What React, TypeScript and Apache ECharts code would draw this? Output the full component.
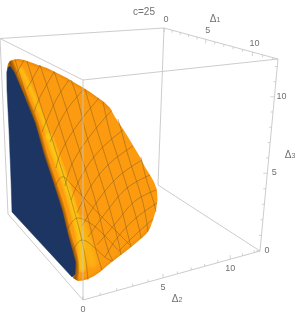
import React, { useEffect, useRef } from "react";
import * as echarts from "echarts";

type P = number[];
const W = 297, H = 315;
const title = "c=25";
const axisMax = 12.5;
const tickValues = [0,1,2,3,4,5,6,7,8,9,10,11,12];
const tickLabels = [0,5,10];

// box corners in picture units
const cTL: P=[0,38.5], cA: P=[164,28], cB: P=[278,59], cF: P=[83,80];
const cBL: P=[8,214], cBack: P=[158,185], cD: P=[260,251], cC: P=[83,300];
const backEdges = [[cTL,cA],[cA,cB],[cTL,cF],[cF,cB],[cTL,cBL],[cA,cBack],[cB,cD],[cBack,cD]];
const frontEdges = [[cF,cC],[cBL,cC],[cC,cD]];

const bodyOutline: P[] = [[7,68],[8,64],[10,61],[14,59.5],[18,59],[24,60],[30,62],[38,65],[47,68],[57,73],[67,78],[75,83],[82,87],[90,92],[97,97],[104,102],[110,108],[115,117],[123,129],[128,137],[140,157],[145,167],[150,175],[154,182],[157,190],[157.5,200],[156,210],[153,220],[150,228],[147,233],[143,237],[130,248],[117,258],[108,265],[100,272],[94,276],[88,279],[83,280.5],[78,281],[73,278],[50,200],[20,110]];
const blueFace: P[] = [[10,66],[8,67.5],[6.8,72],[7,90],[9,130],[11,180],[12,212],[72,277],[75,274],[75.5,262],[68,235],[62,210],[53,182],[44,155],[35,123],[23,93],[14,72]];
const blueEdge: P[] = [[10,62],[23,93],[35,123],[44,155],[53,182],[62,210],[68,235],[75.5,262],[75,279]];
const ridgeUpper: P[] = [[21,70],[31,90],[40,112],[49,137]];
const ridgeLower: P[] = [[49,137],[58,162],[67,187],[75,215],[81,245],[82,268]];
const glowLower: P[] = [[80,222],[87,243],[92,262]];
const topRim: P[] = [[7,68],[10,61],[18,59],[30,62],[47,68],[67,78],[82,87],[97,97],[110,108]];
const lowRim: P[] = [[75,281],[88,279],[100,272],[117,258],[130,248],[143,237],[150,228]];

const meshSteep: P[][] = [
 [[15,59.5],[26,95],[37,130],[45,155],[52,178],[60,203]],
 [[27,61],[39,100],[50,133],[57,155],[72,203],[84,250],[88,280]],
 [[40,65],[50,95],[62,133],[69,155],[84,203],[96,250],[102,270]],
 [[54,71],[62,95],[74,133],[81,155],[96,203],[108,250],[113,261]],
 [[71,80],[77,97],[86,133],[93,155],[108,203],[118,240],[121,255]],
 [[85,89],[89,103],[98,133],[105,155],[120,203],[128,235],[131,247]],
 [[103,102],[110,133],[117,155],[132,203],[139,228],[141,238]],
 [[118,119],[122,133],[128,155],[143,203],[148,232]],
 [[141,157],[146,178],[154,203],[156,212]],
];
const meshRising: P[][] = [
 [[24,60],[15,76]],
 [[40,65],[27,89]],
 [[54,72],[40,97],[34,112]],
 [[69,80],[56,100],[42,132]],
 [[84,89],[66,111],[50,142]],
 [[99,98],[78,124],[61,152],[56,168]],
 [[112,110],[90,136],[72,164],[65,186]],
 [[123,130],[100,150],[82,175],[71,200]],
 [[133,146],[110,163],[91,186],[77,213]],
 [[142,160],[119,176],[99,199],[82,226]],
 [[150,175],[127,188],[107,211],[88,237]],
 [[156,190],[135,201],[115,224],[97,245]],
 [[157,203],[136,218],[117,238],[105,257]],
 [[153,219],[132,238],[118,252]],
];
const meshArches: P[][] = [
 [[72,256],[76,245],[83,240],[95,248],[106,258],[112,261]],
 [[66,232],[72,222],[78,218],[90,223],[103,234],[118,250]],
 [[56,185],[60,178],[64,177],[72,185],[84,198],[100,215],[120,235],[130,245]],
];

const persp = (u: number, a: number) => (u * a) / (1 + (a - 1) * u);
const along = (s: P, e: P, t: number, a: number): P => {
  const k = persp(t / axisMax, a);
  return [s[0] + (e[0] - s[0]) * k, s[1] + (e[1] - s[1]) * k];
};
const axes = [
  { s: cA, e: cB, a: 0.866, dir: [0, 1], off: [2, -9], name: [215, 18], sub: "1" },
  { s: cC, e: cD, a: 1.237, dir: [0, -1], off: [0, 9], name: [177, 298], sub: "2" },
  { s: cD, e: cB, a: 1.02, dir: [-1, 0], off: [7, -1], name: [290, 154], sub: "3" },
];

const BOX = "#c6c6c6";
const TXT = "#707070";
const MESH = "rgba(110,80,30,0.52)";
const widths = (max: number) => Array.from({ length: Math.round(max) }, (_, i) => max - i);

function layer(build: (c: (p: P) => P) => any) {
  return {
    type: "custom", coordinateSystem: "cartesian2d", silent: true, clip: false, data: [[0, 0]],
    renderItem: (_: any, api: any) => build((p: P) => api.coord(p)),
  };
}
const lines = (segs: P[][], style: any, smooth = 0) => layer((c) => ({
  type: "group",
  children: segs.map((s) => ({ type: "polyline", shape: { points: s.map(c), smooth }, style: { fill: "none", ...style } })),
}));
const clippedStrokes = (path: P[], w: number[], color: string) => layer((c) => ({
  type: "group",
  clipPath: { type: "polygon", shape: { points: bodyOutline.map(c) } },
  children: w.map((lw) => ({ type: "polyline", shape: { points: path.map(c), smooth: 0.4 }, style: { fill: "none", stroke: color, lineWidth: lw, lineCap: "round" } })),
}));

export default function App() {
  const ref = useRef<HTMLDivElement>(null);
  useEffect(() => {
    const chart = echarts.init(ref.current!, undefined, { renderer: "svg", width: W, height: H });
    chart.setOption({
      animation: false,
      backgroundColor: "#fff",
      title: { text: title, left: 128, top: 1, textStyle: { fontFamily: "Liberation Sans", fontSize: 10, fontWeight: "normal", color: TXT } },
      grid: { left: 0, right: 0, top: 0, bottom: 0 },
      xAxis: { type: "value", min: 0, max: W, show: false },
      yAxis: { type: "value", min: 0, max: H, inverse: true, show: false },
      series: [
        lines(backEdges, { stroke: BOX, lineWidth: 0.9 }),
        layer((c) => ({
          type: "polygon",
          shape: { points: bodyOutline.map(c) },
          style: { fill: "#fc9a10" },
        })),
        clippedStrokes(topRim, widths(7), "rgba(205,110,5,0.035)"),
        clippedStrokes(lowRim, widths(6), "rgba(205,125,5,0.035)"),
        clippedStrokes(ridgeUpper, widths(7), "rgba(255,205,25,0.16)"),
        clippedStrokes(ridgeLower, widths(10), "rgba(255,215,30,0.14)"),
        clippedStrokes(glowLower, widths(16), "rgba(255,205,30,0.06)"),
        clippedStrokes(blueEdge, widths(7), "rgba(110,60,5,0.14)"),
        lines(meshSteep, { stroke: MESH, lineWidth: 0.8 }, 0.4),
        lines(meshRising, { stroke: MESH, lineWidth: 0.8 }, 0.4),
        lines(meshArches, { stroke: MESH, lineWidth: 0.8 }, 0.4),
        layer((c) => ({
          type: "polygon",
          shape: { points: blueFace.map(c) },
          style: { fill: "#1d3562", stroke: "#1d3562", lineWidth: 0.5 },
        })),
        lines(frontEdges, { stroke: BOX, lineWidth: 0.9 }),
        layer((c) => ({
          type: "group",
          children: axes.flatMap((ax) =>
            tickValues.map((t) => {
              const p = along(ax.s, ax.e, t, ax.a);
              const len = t % 5 === 0 ? 4 : 2.5;
              const q = c(p);
              return { type: "line", shape: { x1: q[0], y1: q[1], x2: q[0] + ax.dir[0] * len, y2: q[1] + ax.dir[1] * len }, style: { stroke: BOX, lineWidth: 0.8 } };
            })),
        })),
        layer((c) => ({
          type: "group",
          children: axes.flatMap((ax) => [
            ...tickLabels.map((t) => {
              const p = along(ax.s, ax.e, t, ax.a);
              const q = c([p[0] + ax.off[0], p[1] + ax.off[1]]);
              return { type: "text", x: q[0], y: q[1], style: { text: String(t), fill: TXT, fontFamily: "Liberation Sans", fontSize: 9, align: "center", verticalAlign: "middle" } };
            }),
            {
              type: "text", x: c(ax.name)[0], y: c(ax.name)[1],
              style: {
                text: `{a|Δ}{b|${ax.sub}}`, fill: TXT, align: "center", verticalAlign: "middle",
                rich: {
                  a: { fontFamily: "Liberation Sans", fontSize: 10, fill: TXT },
                  b: { fontFamily: "Liberation Sans", fontSize: 7, fill: TXT, padding: [3, 0, 0, 0] },
                },
              },
            },
          ]),
        })),
      ],
    });
    return () => chart.dispose();
  }, []);
  return <div ref={ref} style={{ position: "absolute", left: 0, top: 0, width: W, height: H, filter: "blur(0.4px)" }} />;
}
